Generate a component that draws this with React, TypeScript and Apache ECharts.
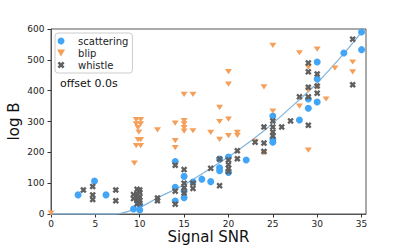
import React, { useEffect, useRef } from "react";
import * as echarts from "echarts";

const xTicks = [0, 5, 10, 15, 20, 25, 30, 35];

const scattering: [number, number][] = [
  [3.05, 62], [4.9, 107], [6.2, 62], [9.3, 16], [10, 13], [10, 29],
  [14, 170], [14, 87], [14, 42], [15, 122], [15, 75], [15, 53],
  [16, 104], [17, 113], [18, 105], [19, 178], [19, 140], [19, 150],
  [20, 185], [20, 135], [22, 175], [25, 318], [25, 243], [25, 233],
  [28, 305], [29, 373], [29, 343], [30, 493], [30, 438], [30, 363],
  [33, 522], [35, 590], [35, 533],
];

const blip: [number, number][] = [
  [0, 3], [9.6, 306], [10.1, 306], [9.6, 292], [10.1, 292], [9.8, 280],
  [9.9, 266], [9.8, 241], [10.1, 241], [9.6, 222], [10.1, 222], [9.4, 165],
  [12, 273], [14, 295], [14, 238], [14, 215], [15, 303], [15, 292],
  [15, 280], [15, 269], [16, 270], [15, 388], [16, 388], [18, 265],
  [19, 346], [19, 300], [19, 242], [20, 462], [20, 421], [20, 308],
  [20, 254], [21, 265], [21, 255], [23, 236], [24, 412], [24, 198],
  [25, 547], [25, 334], [28, 523], [28, 350], [29, 476], [29, 402],
  [29, 207], [30, 535], [30, 411], [31, 373], [32, 473], [34, 493],
  [34, 461],
];

const whistle: [number, number][] = [
  [3.65, 78], [4.7, 89], [4.7, 62], [4.7, 47], [7.3, 78], [7.3, 43],
  [9.3, 63], [9.3, 50], [9.7, 80], [9.7, 65], [9.7, 55], [9.7, 45],
  [9.7, 33], [10, 78], [10, 70], [10, 55], [10, 44], [10, 36],
  [12, 52], [12, 43], [14, 158], [14, 74], [14, 32], [15, 144],
  [15, 100], [15, 85], [15, 68], [16, 100], [16, 83], [18, 148],
  [19, 178], [19, 92], [20, 175], [20, 160], [20, 148], [20, 138],
  [21, 205], [21, 179], [23, 233], [24, 282], [24, 230], [24, 203],
  [25, 302], [25, 282], [25, 266], [25, 253], [26, 282], [27, 302],
  [28, 380], [29, 490], [29, 461], [29, 411], [29, 380], [29, 288],
  [30, 454], [30, 415], [30, 392], [34, 567], [34, 419],
];

const fitX = [0, 7.3, 10, 12, 15, 18, 21, 24, 27, 30, 33, 35];
const fitY = [0, 0, 22, 52, 95, 148, 205, 270, 345, 425, 520, 590];

const TRI = "path://M0,0L10,0L5,8.66Z";
const XMARK =
  "path://M0,2.6L2.6,0L5,2.4L7.4,0L10,2.6L7.6,5L10,7.4L7.4,10L5,7.6L2.6,10L0,7.4L2.4,5Z";

const FONT = "DejaVu Sans";

export default function App() {
  const ref = useRef<HTMLDivElement>(null);
  useEffect(() => {
    document.body.style.margin = "0";
    const chart = echarts.init(ref.current!, null, { renderer: "svg" });
    chart.setOption({
      animation: false,
      backgroundColor: "#fff",
      grid: {
        left: 51, top: 29, right: 41, bottom: 31,
        containLabel: false, outerBoundsMode: "none",
        show: true, borderColor: "#555", borderWidth: 1,
      },
      legend: {
        orient: "vertical",
        left: 55, top: 33,
        padding: [2, 4, 2, 2],
        itemWidth: 24, itemHeight: 7, itemGap: 0,
        borderColor: "#ccc", borderWidth: 1, borderRadius: 3,
        backgroundColor: "rgba(255,255,255,0.8)",
        textStyle: { fontFamily: FONT, fontSize: 10, color: "#222", lineHeight: 12 },
        data: ["scattering", "blip", "whistle"],
      },
      graphic: [
        {
          type: "text", left: 60, top: 78,
          style: { text: "offset 0.0s", fontFamily: FONT, fontSize: 11, fill: "#111" },
        },
      ],
      xAxis: {
        type: "value", min: 0, max: 35.5,
        name: "Signal SNR", nameLocation: "middle", nameGap: 15, nameMoveOverlap: false,
        nameTextStyle: { fontFamily: FONT, fontSize: 15, color: "#111", lineHeight: 16 },
        axisLine: { lineStyle: { color: "#555", width: 1 } },
        axisTick: { show: true, length: 3.5, lineStyle: { color: "#333" }, customValues: xTicks },
        axisLabel: { fontFamily: FONT, fontSize: 9, color: "#222", margin: 5, customValues: xTicks },
        splitLine: { show: false },
      },
      yAxis: {
        type: "value", min: 0, max: 600, interval: 100,
        name: "log B", nameLocation: "middle", nameGap: 29, nameMoveOverlap: false,
        nameTextStyle: { fontFamily: FONT, fontSize: 15, color: "#111", lineHeight: 16 },
        axisLine: { show: true, lineStyle: { color: "#555", width: 1 } },
        axisTick: { show: true, length: 3.5, lineStyle: { color: "#333" } },
        axisLabel: { fontFamily: FONT, fontSize: 9, color: "#222", margin: 6.5 },
        splitLine: { show: false },
      },
      series: [
        {
          type: "line", name: "fit",
          data: fitX.map((x, i) => [x, fitY[i]]),
          smooth: 0.3, showSymbol: false, symbol: "none",
          lineStyle: { color: "#86b6dc", width: 1.3 },
          z: 1, silent: true,
        },
        {
          type: "scatter", name: "scattering", data: scattering,
          symbol: "circle", symbolSize: 7,
          itemStyle: { color: "#42a5f5", opacity: 1 }, z: 2,
        },
        {
          type: "scatter", name: "blip", data: blip,
          symbol: TRI, symbolSize: [7, 6], symbolKeepAspect: true,
          itemStyle: { color: "#f5a05a", opacity: 1 }, z: 3,
        },
        {
          type: "scatter", name: "whistle", data: whistle,
          symbol: XMARK, symbolSize: 6.5, symbolKeepAspect: true,
          itemStyle: { color: "#606060", opacity: 1 }, z: 4,
        },
      ],
    });
    return () => chart.dispose();
  }, []);
  return (
    <div
      ref={ref}
      style={{ width: 407, height: 245, position: "absolute", left: 0, top: 0 }}
    />
  );
}
